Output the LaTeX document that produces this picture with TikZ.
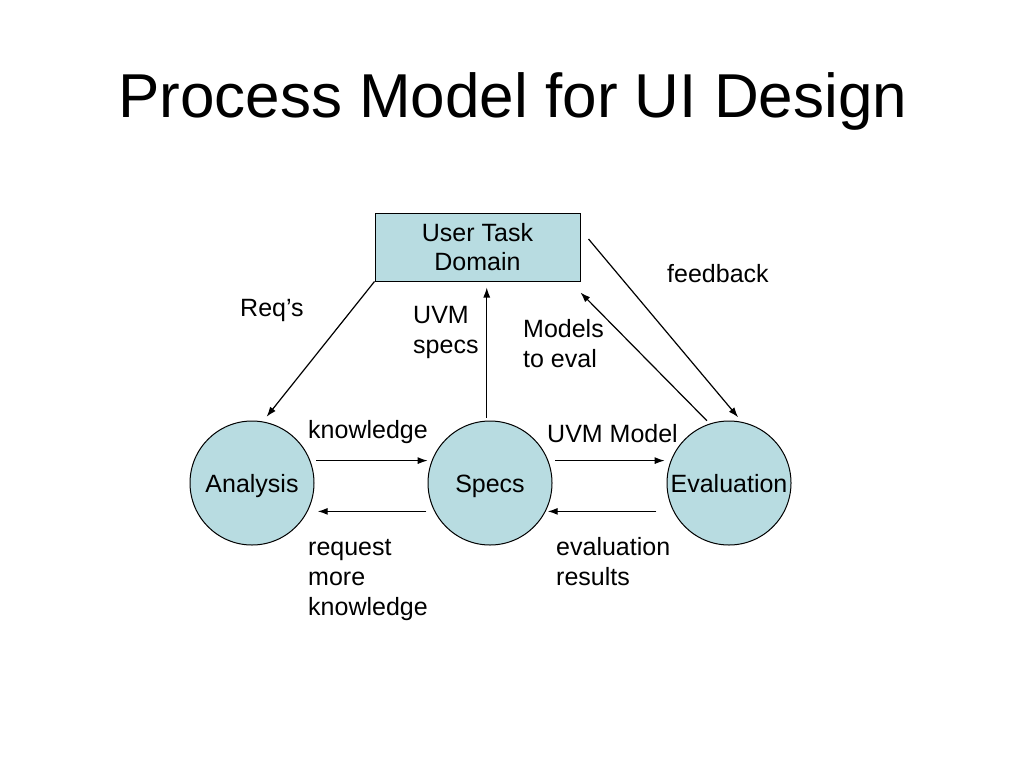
\documentclass[tikz,border=0pt]{standalone}
\usepackage{fontspec}
\setmainfont{Liberation Sans}
\usetikzlibrary{arrows.meta,calc}
\definecolor{nodefill}{RGB}{184,220,225}
\begin{document}
\begin{tikzpicture}[x=1pt,y=-1pt,
 lbl/.style={font=\fontsize{25}{30}\selectfont, inner sep=0, align=left, anchor=base west},
 circ/.style={circle, draw=black, line width=1pt, fill=nodefill, minimum size=124pt, inner sep=0, text height=18pt, text depth=0pt, font=\fontsize{25}{30}\selectfont},
 boxn/.style={draw=black, line width=1pt, fill=nodefill, minimum width=205pt, minimum height=68pt, inner sep=0, align=center, font=\fontsize{25}{29}\selectfont},
 arr/.style={-{Latex[length=10pt,width=7pt]}, line width=1.2pt}]
\useasboundingbox[fill=white] (0,0) rectangle (1024,768);
\node[anchor=base west, inner sep=0, font=\fontsize{62}{70}\selectfont] (title) at (118,117) {Process Model for UI Design};
\node[boxn] (box) at (477.5,247) {\raisebox{-2pt}{User Task}\\\raisebox{-2pt}{Domain}};
\node[circ] (ana) at (252,483) {Analysis};
\node[circ] (spe) at (490,483) {Specs};
\node[circ] (eva) at (729,483) {Evaluation};
% connectors
\draw[arr, shorten >=6pt] (box.south west) -- (ana.80);
\draw[arr, shorten <=3pt, shorten >=6pt] (spe.93) -- (spe.93 |- box.south);
\draw[arr, shorten <=4pt] (eva.108) -- ([yshift=-11pt]box.south east);
\draw[arr, shorten >=6pt] ([shift={(8pt,8pt)}]box.east) -- (eva.78);
\draw[arr] ([xshift=6pt]ana.21) -- ([xshift=-4pt]spe.159);
\draw[arr] ([xshift=-8pt]spe.207) -- ([xshift=10pt]ana.-27);
\draw[arr] ([xshift=7pt]spe.21) -- ([xshift=-6pt]eva.159);
\draw[arr] ([xshift=-17pt]eva.207) -- ([xshift=2pt]spe.-27);
% labels (base = baseline of last line)
\node[lbl] (lreq) at (240,316) {Req’s};
\node[lbl] (luvm) at (413,353) {UVM\\specs};
\node[lbl] (lmod) at (523,367) {Models\\to eval};
\node[lbl] (lfb) at (667,282) {feedback};
\node[lbl] (lkn) at (308,438) {knowledge};
\node[lbl] (lum) at (547,442) {UVM Model};
\node[lbl] (lreqm) at (308,615) {request\\more\\knowledge};
\node[lbl] (lev) at (556,585) {evaluation\\results};
\end{tikzpicture}
\end{document}
